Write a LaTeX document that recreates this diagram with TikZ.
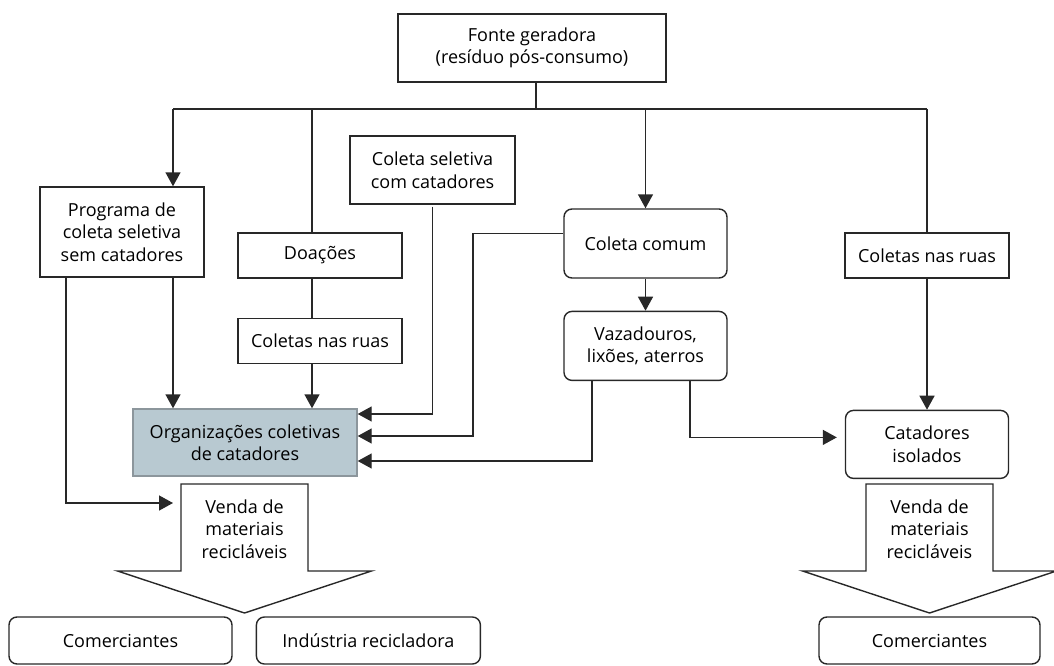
\documentclass[tikz,border=0pt]{standalone}
\usepackage{fontspec}
\setmainfont{Open Sans}
\usepackage{tikz}
\usetikzlibrary{positioning}
\usetikzlibrary{arrows.meta}
\definecolor{linha}{RGB}{40,40,40}
\definecolor{orgazul}{RGB}{184,201,209}
\definecolor{orgborda}{RGB}{140,150,156}
\tikzset{caixa/.style={rectangle,draw=linha,line width=1.4pt,align=center,inner sep=0pt,minimum width=164pt,minimum height=45pt,font=\fontsize{18}{22.5}\selectfont},
caixa redonda/.style={caixa,rounded corners=8pt},
texto/.style={align=center,inner sep=0pt,font=\fontsize{18}{22.5}\selectfont},}

\begin{document}
\begin{tikzpicture}[x=1pt, y=-1pt, ->, >={Triangle[width=15pt,length=14pt]}, line width=1.4pt, draw=linha]
	\useasboundingbox (0,0) rectangle (1054,666);
	\node[caixa, minimum width=268pt, minimum height=68pt] (fonte) at (532,48) {Fonte geradora\\(resíduo pós-consumo)};
	\node[caixa, minimum height=90pt] (programa) at (122,232) {Programa de\\coleta seletiva\\sem catadores};
	\node[caixa] (doacoes) at (320,255.5) {Doações};
	\node[caixa] (ruasE) [below = 39pt of doacoes] {Coletas nas ruas};
	\node[caixa, minimum width=165pt, minimum height=68pt] (seletiva) at (432.5,170) {Coleta seletiva\\com catadores};
	\node[caixa redonda, minimum width=163pt, minimum height=69pt] (comum) at (645.5,243.5) {Coleta comum};
	\node[caixa redonda, minimum width=163pt, minimum height=69pt] (vaza) [below = 32pt of comum] {Vazadouros,\\lixões, aterros};
	\node[caixa] (ruasD) at (927,255.5) {Coletas nas ruas};
	\node[caixa redonda, minimum width=163pt, minimum height=68pt] (isolados) [below = 131pt of ruasD] {Catadores\\isolados};
	\node[caixa, fill=orgazul, draw=orgborda, minimum width=224pt, minimum height=67pt] (org) at (245,442.5) {Organizações coletivas\\de catadores};

	% setas de venda
	\foreach \cx/\nome in {244.5/vendaE, 929.5/vendaD} {
		\draw[-, line join=miter] (\cx-63.5,484) -- (\cx+63.5,484) -- (\cx+63.5,571) -- (\cx+127,571) -- (\cx,613) -- (\cx-127,571) -- (\cx-63.5,571) -- cycle;
		\node[texto] (\nome) at (\cx,529) {Venda de\\materiais\\recicláveis};
	}

	\node[caixa redonda, minimum width=223pt, minimum height=47pt] (comE) at (120.5,640.5) {Comerciantes};
	\node[caixa redonda, minimum width=224pt, minimum height=47pt] (industria) [right = 23pt of comE] {Indústria recicladora};
	\node[caixa redonda, minimum width=221pt, minimum height=47pt] (comD) at (929.5,640.5) {Comerciantes};

	% barramento
	\coordinate (bus) at (536,109);
	\coordinate (busE) at (173,109);
	\coordinate (busDo) at (312,109);
	\coordinate (busD) at (927,109);
	\coordinate (progE) at (66,503);
	\draw[-] (fonte.south -| bus) -- (bus);
	\draw[-] (busE) -- (busD);
	\draw (busE) -- (busE |- programa.north);
	\draw[-] (busDo) -- (busDo |- doacoes.north);
	\draw[-] (busDo |- doacoes.south) -- (busDo |- ruasE.north);
	\draw (busDo |- ruasE.south) -- (busDo |- org.north);
	\draw (busE |- programa.south) -- (busE |- org.north);
	\draw (programa.south -| progE) -- (progE) -- (progE -| busE);
	\draw ([yshift=-2pt]seletiva.south) |- ([yshift=28.5pt]org.east);
	\draw ([yshift=10pt]comum.west) -| (473,436) -- ([yshift=6.5pt]org.east);
	\draw ([xshift=-53.5pt]vaza.south) |- ([yshift=-18.5pt]org.east);
	\draw ([xshift=44.5pt]vaza.south) |- ([xshift=-8pt,yshift=7pt]isolados.west);
	\draw (comum.north |- bus) -- (comum.north);
	\draw (comum.south) -- (vaza.north);
	\draw[-] (busD) -- (ruasD.north);
	\draw (ruasD.south) -- (ruasD.south |- isolados.north);
\end{tikzpicture}
\end{document}
